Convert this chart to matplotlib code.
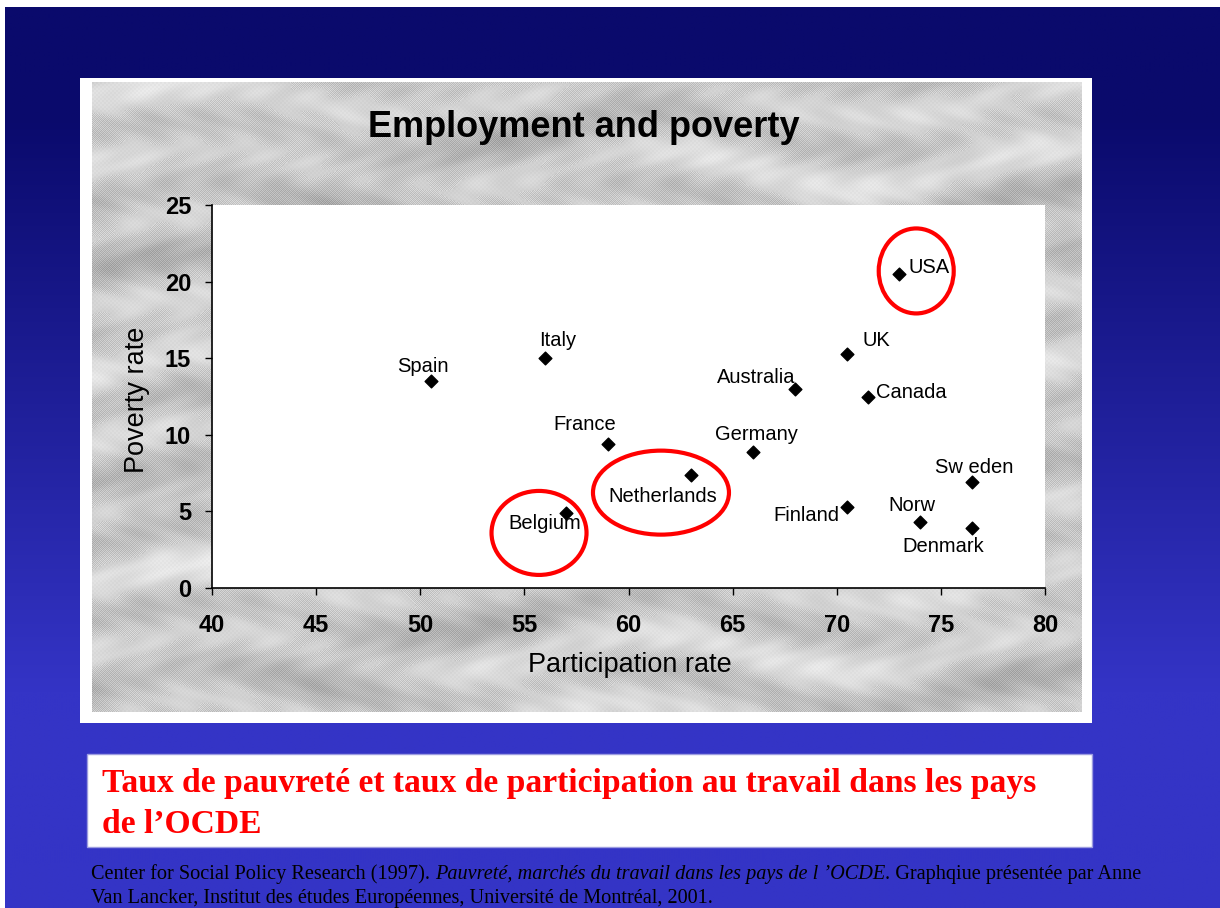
import numpy as np
import matplotlib
matplotlib.use("Agg")
import matplotlib.pyplot as plt
from matplotlib.patches import Rectangle, Ellipse

# ---------------- data ----------------
countries = ["Spain", "Italy", "France", "Netherlands", "Belgium", "Germany",
             "Australia", "UK", "Canada", "USA", "Finland", "Norw", "Sw eden", "Denmark"]
participation = [50.5, 56.0, 59.0, 63.0, 57.0, 66.0, 68.0, 70.5, 71.5, 73.0, 70.5, 74.0, 76.5, 76.5]
poverty = [13.5, 15.0, 9.4, 7.4, 4.9, 8.9, 13.0, 15.3, 12.5, 20.5, 5.3, 4.3, 6.9, 3.9]
x_ticks = [40, 45, 50, 55, 60, 65, 70, 75, 80]
y_ticks = [0, 5, 10, 15, 20, 25]
highlighted = ["USA", "Netherlands", "Belgium"]

title = "Employment and poverty"
x_label = "Participation rate"
y_label = "Poverty rate"
caption_lines = ["Taux de pauvreté et taux de participation au travail dans les pays",
                 "de l\u2019OCDE"]
source_parts_1 = [("Center for Social Policy Research (1997). ", "normal"),
                  ("Pauvreté, marchés du travail dans les pays de l \u2019OCDE", "italic"),
                  (". Graphqiue présentée par Anne", "normal")]
source_line_2 = "Van Lancker, Institut des études Européennes, Université de Montréal, 2001."

# label offsets in pixels (dx right, dy down) relative to the marker
label_offsets = {"Spain": (-8, -15), "Italy": (12, -18), "France": (-23, -19),
                 "Netherlands": (-28, 22), "Belgium": (-21, 11), "Germany": (3, -17),
                 "Australia": (-39, -11), "UK": (29, -13), "Canada": (43, -4),
                 "USA": (30, -6), "Finland": (-41, 9), "Norw": (-8, -17),
                 "Sw eden": (2, -15), "Denmark": (-29, 18)}
# highlight ellipses: centre offset (px) and size (px)
ellipse_specs = {"USA": (17, -3, 75, 85), "Netherlands": (-30, 18, 136, 84),
                 "Belgium": (-27, 20, 95, 84)}

# ---------------- figure ----------------
W, H = 1220, 908
fig = plt.figure(figsize=(W / 100, H / 100), dpi=100)
fig.patch.set_facecolor("white")

bg = fig.add_axes([0, 0, 1, 1], zorder=0)
bg.axis("off")

# blue gradient background
rows = np.arange(H)
t = np.clip((rows - 110) / 580.0, 0, 1)
top = np.array([10, 10, 108]) / 255.0
bot = np.array([52, 52, 198]) / 255.0
grad = top + (bot - top) * t[:, None]
img = np.repeat(grad[:, None, :], 4, axis=1)
bg.imshow(img, extent=(5, W, H, 7), aspect="auto", interpolation="bilinear", zorder=0)

# white frame around the chart
bg.add_patch(Rectangle((80, 78), 1012, 645, facecolor="white", edgecolor="none", zorder=1))

# mottled grey panel (decorative, deterministic texture with horizontal streaks)
gy, gx = np.mgrid[0:630, 0:990].astype(float)
base = (0.78
        + 0.05 * np.sin(gy / 11.0 + 1.8 * np.sin(gx / 70.0))
        + 0.04 * np.sin(gx / 53.0 + 0.6 * np.cos(gy / 29.0)) * np.cos(gy / 19.0)
        + 0.03 * np.sin(gx / 131.0 + gy / 37.0)
        + 0.025 * np.sin(gx / 9.0 + 3 * np.sin(gy / 13.0)) * np.sin(gy / 7.0))
ix, iy = gx.astype(int), gy.astype(int)
dots = np.where(((ix + iy) % 2 == 0), 0.05, -0.05) * (base < 0.80) + 0.02 * ((ix // 2 + iy // 2) % 2)
tex = np.clip(base + dots, 0.5, 0.97)
bg.imshow(tex, extent=(92, 1082, 712, 82), cmap="gray", vmin=0, vmax=1,
          aspect="auto", interpolation="nearest", zorder=2)

# caption box
bg.add_patch(Rectangle((87, 754), 1005, 93, facecolor="white", edgecolor="#9c9ce0",
                       linewidth=1, zorder=1))

bg.set_xlim(0, W)
bg.set_ylim(H, 0)

# title
bg.text(584, 137, title, ha="center", va="baseline", fontsize=26, fontweight="bold",
        family="Liberation Sans", color="black", zorder=5)

# red caption
bg.text(102, 792, caption_lines[0], ha="left", va="baseline", fontsize=24.2, fontweight="bold",
        family="Liberation Serif", color="#ff0000", zorder=5)
bg.text(102, 833, caption_lines[1], ha="left", va="baseline", fontsize=24.2, fontweight="bold",
        family="Liberation Serif", color="#ff0000", zorder=5)

# source line with mixed styles
renderer = fig.canvas.get_renderer()
xpos = 91
for txt, style in source_parts_1:
    tt = bg.text(xpos, 879, txt, ha="left", va="baseline", fontsize=14.6, style=style,
                 family="Liberation Serif", color="black", zorder=5)
    ext = tt.get_window_extent(renderer)
    xpos = ext.x1
bg.text(91, 903, source_line_2, ha="left", va="baseline", fontsize=14.6,
        family="Liberation Serif", color="black", zorder=5)

# ---------------- scatter axes ----------------
ax_l, ax_r, ax_t, ax_b = 212, 1045, 205, 588
ax = fig.add_axes([ax_l / W, 1 - ax_b / H, (ax_r - ax_l) / W, (ax_b - ax_t) / H], zorder=2)
ax.set_facecolor("white")
ax.set_xlim(x_ticks[0], x_ticks[-1])
ax.set_ylim(y_ticks[0], y_ticks[-1])
ax.scatter(participation, poverty, marker="D", s=42, color="black", zorder=3)

for s in ["top", "right"]:
    ax.spines[s].set_visible(False)
for s in ["left", "bottom"]:
    ax.spines[s].set_linewidth(1.2)
    ax.spines[s].set_color("black")

ax.set_xticks(x_ticks)
ax.set_yticks(y_ticks)
ax.tick_params(axis="both", direction="out", length=5, width=1, colors="black", labelsize=17)
ax.tick_params(axis="x", pad=14)
ax.tick_params(axis="y", pad=10)
for lab in ax.get_xticklabels() + ax.get_yticklabels():
    lab.set_fontweight("bold")
    lab.set_family("Liberation Sans")

ax.set_xlabel(x_label, fontsize=19.5, family="Liberation Sans")
ax.set_ylabel(y_label, fontsize=19.5, family="Liberation Sans")
ax.xaxis.set_label_coords((630 - ax_l) / (ax_r - ax_l), (ax_b - 652) / (ax_b - ax_t))
ax.yaxis.set_label_coords((150 - ax_l) / (ax_r - ax_l), (ax_b - 400) / (ax_b - ax_t))

for name, xv, yv in zip(countries, participation, poverty):
    dx, dy = label_offsets[name]
    ax.annotate(name, (xv, yv), xytext=(dx * 0.72, -dy * 0.72), textcoords="offset points",
                ha="center", va="center", fontsize=14.5, family="Liberation Sans", zorder=4)

# pixel -> data scale
sx = (x_ticks[-1] - x_ticks[0]) / (ax_r - ax_l)
sy = (y_ticks[-1] - y_ticks[0]) / (ax_b - ax_t)
for name in highlighted:
    i = countries.index(name)
    ox, oy, w, h = ellipse_specs[name]
    e = Ellipse((participation[i] + ox * sx, poverty[i] - oy * sy), w * sx, h * sy,
                facecolor="none", edgecolor="#ff0000", linewidth=3, zorder=5, clip_on=False)
    ax.add_patch(e)

fig.savefig("out.png", dpi=100)
